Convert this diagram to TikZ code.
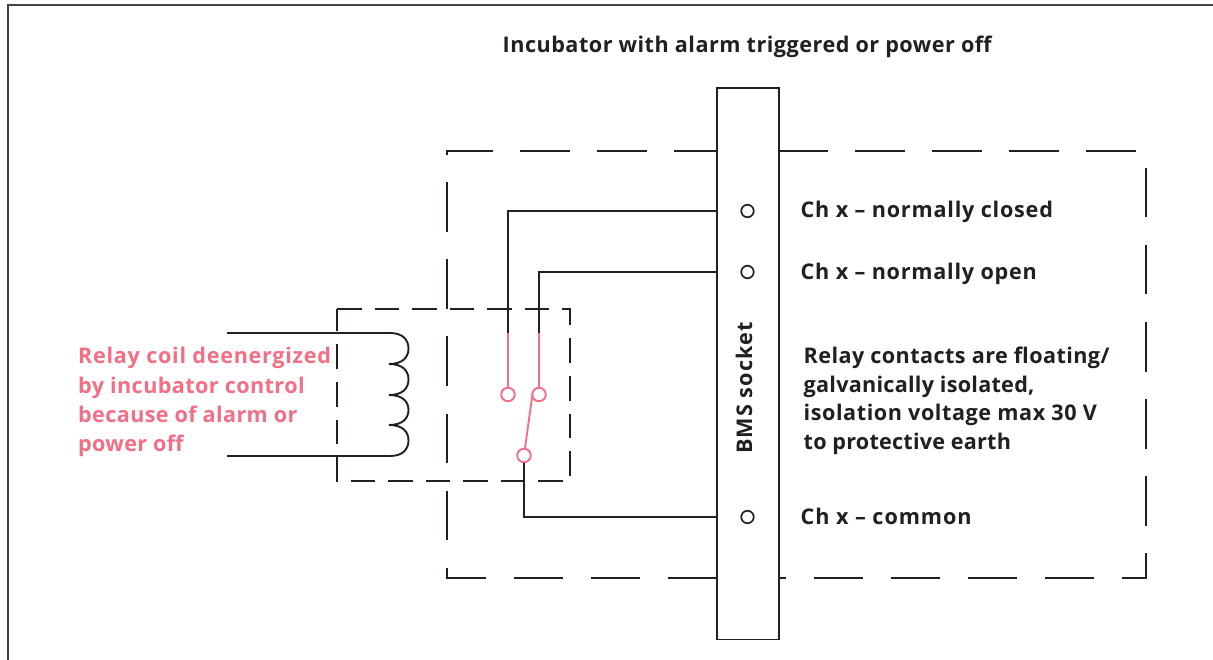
\documentclass[tikz,border=0pt]{standalone}
\usepackage{fontspec}
\setmainfont{Open Sans}
\newcommand{\spc}[1]{\addfontfeature{LetterSpace=#1}}
\definecolor{ink}{HTML}{231F20}
\definecolor{rose}{HTML}{F36F86}
\tikzset{
  wire/.style={draw=ink,line width=1.9pt},
  pinkwire/.style={draw=rose,line width=1.9pt},
  bigdash/.style={draw=ink,line width=1.9pt,dash pattern=on 49.5pt off 27.5pt},
  smalldash/.style={draw=ink,line width=1.6pt,dash pattern=on 24.5pt off 13pt},
  pin/.style={circle,draw=ink,fill=white,line width=1.7pt,minimum size=12.5pt,inner sep=0pt},
  contact/.style={circle,draw=rose,fill=white,line width=1.9pt,minimum size=13.5pt,inner sep=0pt},
  lbl/.style={anchor=base west,inner sep=0pt,text=ink,font=\fontsize{21.6}{26}\selectfont\bfseries},
  plbl/.style={lbl,text=rose},
}
\begin{document}
\begin{tikzpicture}[x=1pt,y=-1pt]
\useasboundingbox (0,0) rectangle (1213,660);
\fill[white] (0,0) rectangle (1213,660);
\draw[draw=ink!85,line width=1.9pt] (8,660) -- (8,5) -- (1213,5);
% dashed enclosures
\draw[bigdash] (717,578) -- (447,578) -- (447,151) -- (717,151);
\draw[bigdash] (778,151) -- (1146,151) -- (1146,578) -- (779,578);
\draw[smalldash] (337,309) -- (570,309) -- (570,481) -- (337,481) -- cycle;
% socket
\node[draw=ink,fill=white,line width=1.9pt,minimum width=61.6pt,minimum height=551.5pt,inner sep=0pt] (socket) at (747.8,363.7) {};
\node[pin] (pnc) at (747.5,211) {};
\node[pin] (pno) at (747.5,272) {};
\node[pin] (pcom) at (747.5,517) {};
\node[anchor=base,rotate=90,inner sep=0pt,text=ink,font=\fontsize{21.6}{26}\selectfont\bfseries] (bms) at (752,388) {\spc{5}BMS socket};
% switch
\node[contact] (cnc) at (508,394.5) {};
\node[contact] (cno) at (539,394.5) {};
\node[contact] (ccom) at (524,455.5) {};
\coordinate (jnc) at (508,333);
\coordinate (jno) at (539,333);
\coordinate (coilA) at (227,333);
\coordinate (coilB) at (227,456);
\coordinate (armtip) at (532.5,394);
\draw[wire] (jnc) |- (pnc -| socket.west);
\draw[wire] (jno) |- (pno -| socket.west);
\draw[wire] (ccom) |- (pcom -| socket.west);
\draw[pinkwire] (jnc) -- (cnc);
\draw[pinkwire] (jno) -- (cno);
\draw[pinkwire] (ccom) -- (armtip);
% coil
\draw[wire] (coilA) -- (390,333)
  .. controls (403,333) and (408.5,340) .. (408.5,348.5)
  .. controls (408.5,357) and (403,364) .. (389,364)
  .. controls (403,364) and (408.5,371) .. (408.5,379.5)
  .. controls (408.5,388) and (403,395) .. (389,395)
  .. controls (403,395) and (408.5,402) .. (408.5,410)
  .. controls (408.5,418) and (403,425) .. (389,425)
  .. controls (403,425) and (408.5,432) .. (408.5,440.5)
  .. controls (408.5,449) and (403,456) .. (390,456) -- (coilB);
% labels
\node[lbl] (title) at (502.5,53) {\spc{2.3}Incubator with alarm triggered or power off};
\node[lbl] (lnc) at (800.5,218) {\spc{3.6}Ch x – normally closed};
\node[lbl] (lno) at (800.5,280) {\spc{3.5}Ch x – normally open};
\node[lbl] (lcom) at (800.5,524) {\spc{4.3}Ch x – common};
\node[lbl] (n1) at (803.5,363) {\spc{2}Relay contacts are floating/};
\node[lbl] (n2) at (803.5,392) {\spc{1.2}galvanically isolated,};
\node[lbl] (n3) at (803.5,420) {\spc{2.6}isolation voltage max 30 V};
\node[lbl] (n4) at (803.5,449) {\spc{1}to protective earth};
\node[plbl] (p1) at (78,363.5) {\spc{3.3}Relay coil deenergized};
\node[plbl] (p2) at (78,393) {\spc{1.9}by incubator control};
\node[plbl] (p3) at (78,422) {\spc{1.7}because of alarm or};
\node[plbl] (p4) at (78,451) {\spc{1.5}power off};
\end{tikzpicture}
\end{document}
